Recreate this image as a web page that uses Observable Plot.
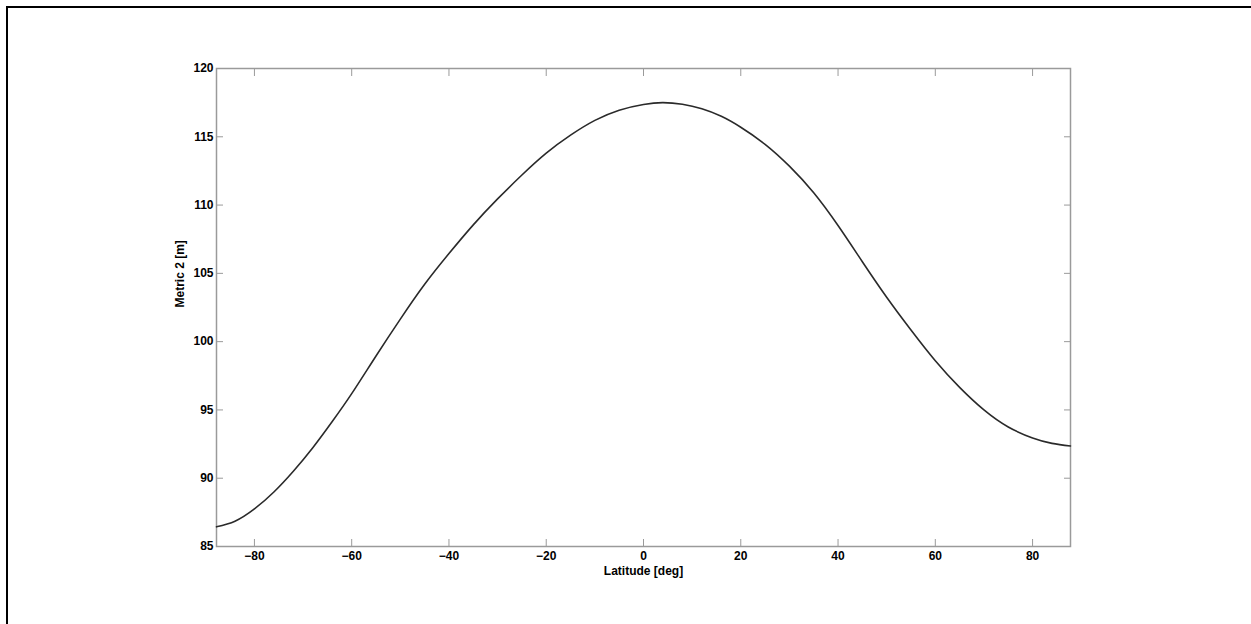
<!DOCTYPE html>
<html>
<head>
<meta charset="utf-8">
<script src="https://cdn.jsdelivr.net/npm/d3@7"></script>
<script src="https://cdn.jsdelivr.net/npm/@observablehq/plot@0.6"></script>
<style>
  html, body { margin: 0; padding: 0; background: #fff; }
  #wrap { position: relative; width: 1251px; height: 624px; overflow: hidden; }
  #border { position: absolute; left: 6px; top: 6px; right: -10px; bottom: -10px;
            border-top: 2.5px solid #000; border-left: 2.5px solid #000; pointer-events: none; }
  svg { font-family: "Liberation Sans", Arial, sans-serif; }
</style>
</head>
<body>
<div id="wrap"><div id="border"></div></div>
<script>
const latitude = [-87.8, -84, -80, -76, -72, -68, -64, -60, -55, -50, -45, -40, -35, -30, -25, -20, -15, -10, -5, 0, 4, 8, 12, 16, 20, 25, 30, 35, 40, 45, 50, 55, 60, 65, 70, 75, 80, 84, 87.8];
const metric2 = [86.44, 86.85, 87.75, 88.99, 90.51, 92.23, 94.15, 96.19, 98.95, 101.65, 104.2, 106.45, 108.55, 110.45, 112.2, 113.8, 115.12, 116.2, 116.95, 117.37, 117.5, 117.38, 117.05, 116.5, 115.7, 114.45, 112.85, 110.9, 108.5, 105.85, 103.25, 100.85, 98.6, 96.65, 95.0, 93.75, 92.95, 92.55, 92.36];
const xTicks = [-80, -60, -40, -20, 0, 20, 40, 60, 80];
const yTicks = [85, 90, 95, 100, 105, 110, 115, 120];
const xLabel = "Latitude [deg]";
const yLabel = "Metric 2 [m]";

const data = latitude.map((x, i) => ({x, y: metric2[i]}));
const grey = "#9a9a9a";
const blank = () => "";

const chart = Plot.plot({
  width: 1251,
  height: 624,
  marginLeft: 216,
  marginRight: 181,
  marginTop: 68,
  marginBottom: 78,
  style: {fontSize: "12px", fontWeight: "bold", color: "#000", background: "transparent"},
  x: {domain: [-87.8, 87.8], label: null},
  y: {domain: [85, 120], label: null},
  marks: [
    Plot.axisX(xTicks, {anchor: "bottom", tickSize: -7, tickPadding: 12, stroke: grey, fill: "#000", fontWeight: "bold", label: null}),
    Plot.axisX(xTicks, {anchor: "top", tickSize: -7, tickFormat: blank, stroke: grey, label: null}),
    Plot.axisY(yTicks, {anchor: "left", tickSize: -7, tickPadding: 10, stroke: grey, fill: "#000", fontWeight: "bold", label: null}),
    Plot.axisY(yTicks, {anchor: "right", tickSize: -7, tickFormat: blank, stroke: grey, label: null}),
    Plot.frame({stroke: grey, strokeWidth: 1.5}),
    Plot.line(data, {x: "x", y: "y", curve: "natural", stroke: "#2a2a2a", strokeWidth: 1.6}),
    Plot.text([xLabel], {frameAnchor: "bottom", dy: 28, text: d => d, fontWeight: "bold", fontSize: 12, fill: "#000"}),
    Plot.text([yLabel], {frameAnchor: "left", dx: -36, rotate: -90, text: d => d, fontWeight: "bold", fontSize: 12, fill: "#000"})
  ]
});
document.getElementById("wrap").prepend(chart);
</script>
</body>
</html>
